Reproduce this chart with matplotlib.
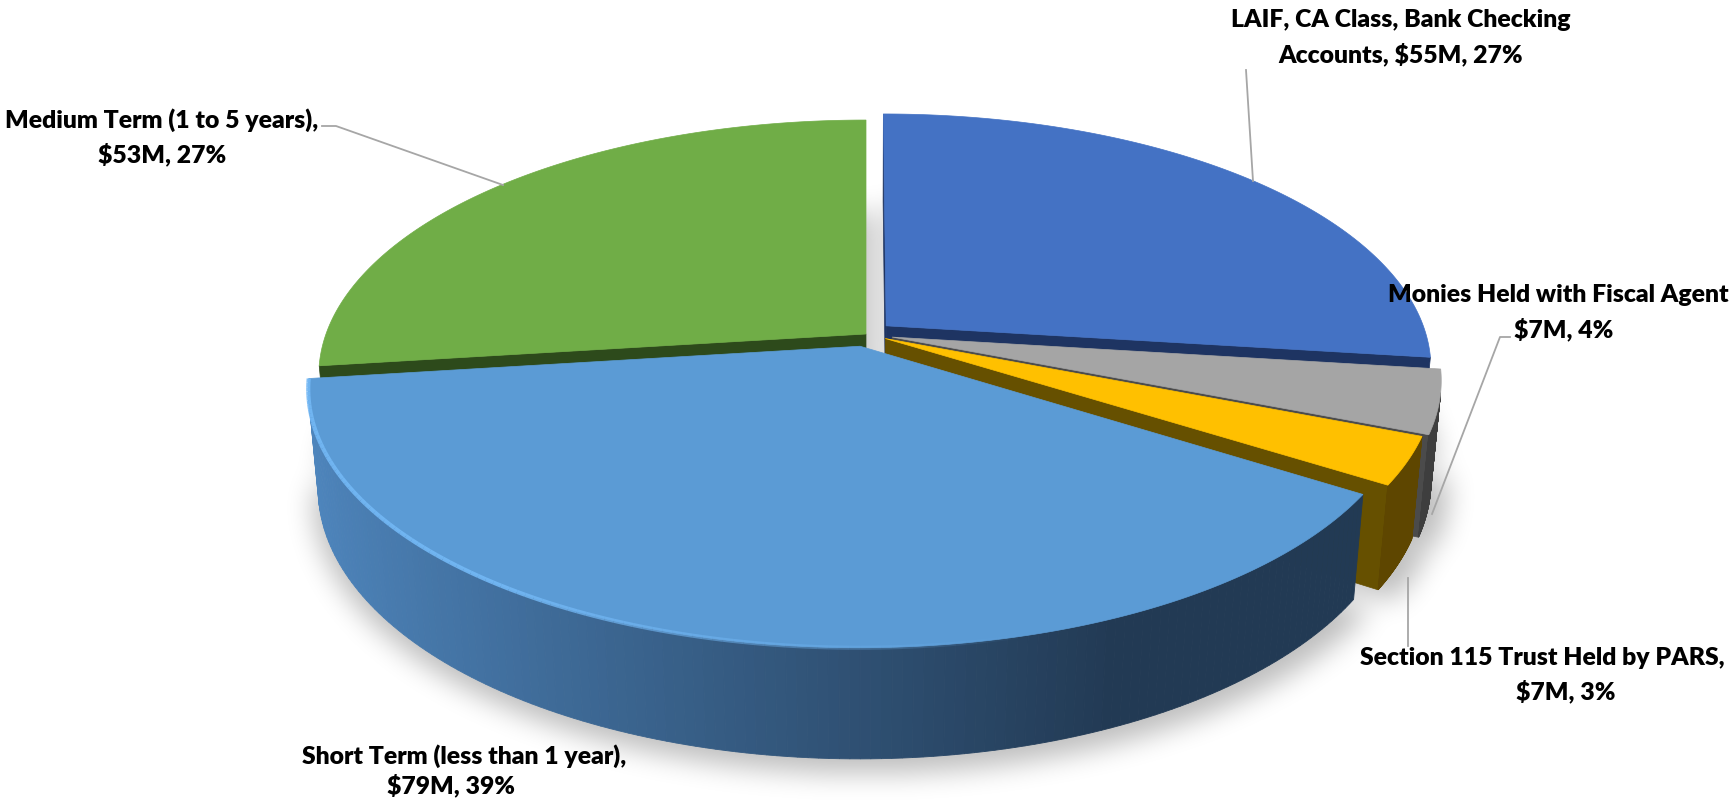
import numpy as np
import matplotlib
matplotlib.use("Agg")
import matplotlib.pyplot as plt
from matplotlib.patches import Polygon
from matplotlib.path import Path
from matplotlib.colors import to_rgb
from matplotlib.collections import LineCollection

plt.rcParams['font.family'] = ['Lato', 'DejaVu Sans']

# portfolio holdings ($M) and share of total
name_head = ["LAIF, CA Class, Bank Checking", "Monies Held with Fiscal Agent",
             "Section 115 Trust Held by PARS,", "Short Term (less than 1 year),",
             "Medium Term (1 to 5 years),"]
name_tail = ["Accounts, ", "", "", "", ""]
values = [55, 7, 7, 79, 53]
percents = [27, 4, 3, 39, 27]

top_colors = ["#4472C4", "#A5A5A5", "#FFC000", "#5B9BD5", "#70AD47"]
cut_colors = ["#1E3462", "#4B4B4B", "#665000", "#243D57", "#2D4A1B"]
wall_light = ["#2F4F8E", "#6E6E6E", "#6E5300", "#4F87BF", "#4C7A30"]
wall_dark = ["#1E3462", "#3E3E3E", "#5E4600", "#223A54", "#2D4A1B"]
explode = [0.05, 0.05, 0.04, 0.05, 0.0]

# label line centres (pixels) and leader lines
label_pos = [((1401, 20), (1401, 54)),
             ((1558, 295), (1564, 329)),
             ((1542, 658), (1566, 691)),
             ((464, 756), (451, 785)),
             ((162, 120), (162, 154))]
leaders = [[(1246, 70), (1253, 181)],
           [(1510, 337), (1500, 337), (1432, 514)],
           [(1408, 578), (1408, 646)],
           None,
           [(322, 126), (336, 126), (503, 185)]]

W, H = 1732, 809
fig = plt.figure(figsize=(W / 100, H / 100), dpi=100)
ax = fig.add_axes([0, 0, 1, 1])
ax.set_xlim(0, W)
ax.set_ylim(H, 0)
ax.axis('off')

# perspective camera
cx, cy, S = 866, 334, 540
elev = np.radians(27.4)
D = 5.5
h = 0.208
cam = np.array([0.0, -D * np.cos(elev), D * np.sin(elev)])


def proj(x, y, z):
    w = 1 + (y * np.cos(elev) - z * np.sin(elev)) / D
    return cx + S * x / w, cy - S * (y * np.sin(elev) + z * np.cos(elev)) / w


def facing(p, n):
    return np.dot(cam - np.asarray(p), np.asarray(n)) > 0


fr = np.array(percents) / 100.0
ends = 90 - 360 * np.cumsum(fr)
starts = ends + 360 * fr
mids = (starts + ends) / 2

# soft shadow under the pie
xs = np.arange(0, W, 2) + 1.0
ys = np.arange(0, H, 2) + 1.0
gx, gy = np.meshgrid(xs, ys)
pts = np.column_stack([gx.ravel(), gy.ravel()])
mask = np.zeros(len(pts), bool)
for i in range(len(values)):
    m = np.radians(mids[i])
    ox, oy = explode[i] * np.cos(m), explode[i] * np.sin(m)
    th = np.radians(np.linspace(ends[i], starts[i], 80))
    bx, by = proj(np.r_[ox, ox + 1.02 * np.cos(th)], np.r_[oy, oy + 1.02 * np.sin(th)], -h)
    mask |= Path(np.column_stack([bx + 6, by + 8])).contains_points(pts)
mask = mask.reshape(gx.shape).astype(float)


def box1d(a, r, axis):
    a = np.swapaxes(a, 0, axis)
    p = np.pad(a, ((r + 1, r), (0, 0)), mode='edge')
    c = np.cumsum(p, axis=0)
    out = (c[2 * r + 1:] - c[:-2 * r - 1]) / (2 * r + 1)
    return np.swapaxes(out, 0, axis)


for _ in range(3):
    mask = box1d(mask, 6, 0)
    mask = box1d(mask, 6, 1)
shadow = np.zeros(mask.shape + (4,))
shadow[..., 3] = mask * 0.26
ax.imshow(shadow, extent=(0, W, H, 0), origin='upper', zorder=0, interpolation='bilinear')

# slices, far ones first
order = sorted(range(len(values)), key=lambda k: -np.sin(np.radians(mids[k])))
for i in order:
    m = np.radians(mids[i])
    ox, oy = explode[i] * np.cos(m), explode[i] * np.sin(m)
    lo, hi = np.radians(ends[i]), np.radians(starts[i])
    th = np.linspace(lo, hi, 150)
    rx, ry = ox + np.cos(th), oy + np.sin(th)
    tx, ty = proj(rx, ry, 0)
    bx, by = proj(rx, ry, -h)
    ax0, ay0 = proj(ox, oy, 0)
    ax1, ay1 = proj(ox, oy, -h)

    # radial cut faces
    for a, nrm in ((hi, hi + np.pi / 2), (lo, lo - np.pi / 2)):
        pc = (ox + 0.5 * np.cos(a), oy + 0.5 * np.sin(a), -h / 2)
        if facing(pc, (np.cos(nrm), np.sin(nrm), 0)):
            qx0, qy0 = proj(ox + np.cos(a), oy + np.sin(a), 0)
            qx1, qy1 = proj(ox + np.cos(a), oy + np.sin(a), -h)
            ax.add_patch(Polygon([(ax0, ay0), (qx0, qy0), (qx1, qy1), (ax1, ay1)],
                                 closed=True, fc=cut_colors[i], ec=cut_colors[i], lw=0.5, zorder=1))

    # outer wall with shading
    cl, cd = np.array(to_rgb(wall_light[i])), np.array(to_rgb(wall_dark[i]))
    for j in range(len(th) - 1):
        tm = (th[j] + th[j + 1]) / 2
        pc = (ox + np.cos(tm), oy + np.sin(tm), -h / 2)
        if not facing(pc, (np.cos(tm), np.sin(tm), 0)):
            continue
        t = np.clip((np.cos(tm) + 1) / 1.4, 0, 1)
        col = cl * (1 - t) + cd * t
        ax.add_patch(Polygon([(tx[j], ty[j]), (tx[j + 1], ty[j + 1]), (bx[j + 1], by[j + 1]), (bx[j], by[j])],
                             closed=True, fc=col, ec=col, lw=0.6, zorder=1))

    # top face
    ax.add_patch(Polygon(np.column_stack([np.r_[ax0, tx], np.r_[ay0, ty]]), closed=True,
                         fc=top_colors[i], ec=top_colors[i], lw=0.5, zorder=1))

    # bevel highlight along the front rim of the big slice
    if i == 3:
        sel = np.degrees(th) < -75
        px, py = tx[sel], ty[sel]
        segs = [[(px[k], py[k]), (px[k + 1], py[k + 1])] for k in range(len(px) - 1)]
        dg = np.degrees(th[sel][:-1])
        alph = np.clip((-75 - dg) / 50, 0, 1) * 0.9
        cols = [(0.45, 0.72, 0.96, a) for a in alph]
        ax.add_collection(LineCollection(segs, colors=cols, linewidths=3, zorder=2))

# data labels
for i in range(len(values)):
    line2 = f"{name_tail[i]}${values[i]}M, {percents[i]}%"
    (x1, y1), (x2, y2) = label_pos[i]
    ax.text(x1, y1, name_head[i], ha='center', va='center', fontsize=17.8,
            fontweight='heavy', color='black', zorder=10)
    ax.text(x2, y2, line2, ha='center', va='center', fontsize=17.8,
            fontweight='heavy', color='black', zorder=10)
    if leaders[i]:
        lx, ly = zip(*leaders[i])
        ax.plot(lx, ly, color='#A6A6A6', lw=1.3, zorder=5)

fig.savefig('out.png', dpi=100)
